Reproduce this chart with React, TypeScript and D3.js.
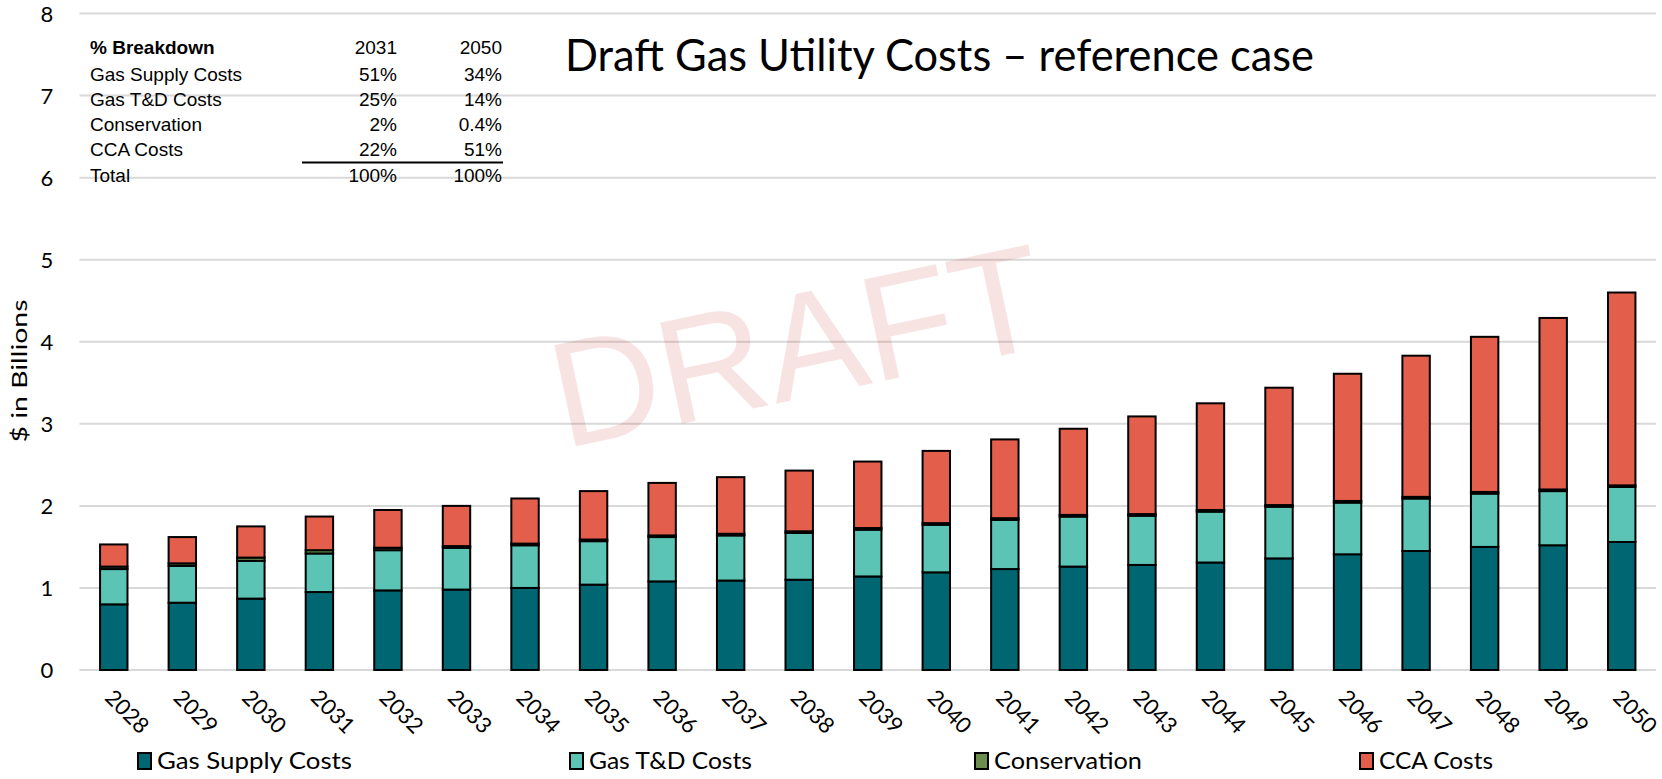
import React from 'react';
import * as d3 from 'd3';

const years = ['2028','2029','2030','2031','2032','2033','2034','2035','2036','2037','2038','2039','2040','2041','2042','2043','2044','2045','2046','2047','2048','2049','2050'];
const gasSupply = [0.80,0.82,0.87,0.95,0.97,0.98,1.00,1.04,1.08,1.09,1.10,1.14,1.19,1.23,1.26,1.28,1.31,1.36,1.41,1.45,1.50,1.52,1.56];
const gasTD = [0.43,0.45,0.46,0.47,0.49,0.51,0.52,0.53,0.54,0.55,0.57,0.57,0.58,0.60,0.61,0.60,0.62,0.63,0.63,0.64,0.65,0.66,0.67];
const conservation = [0.03,0.03,0.04,0.04,0.03,0.02,0.02,0.02,0.02,0.02,0.02,0.02,0.02,0.02,0.02,0.02,0.02,0.02,0.02,0.02,0.02,0.02,0.02];
const ccaCosts = [0.27,0.32,0.38,0.41,0.46,0.49,0.55,0.59,0.64,0.69,0.74,0.81,0.88,0.96,1.05,1.19,1.30,1.43,1.55,1.72,1.89,2.09,2.35];

const seriesNames = ['Gas Supply Costs', 'Gas T&D Costs', 'Conservation', 'CCA Costs'];
const seriesColors = ['#006671', '#5bc4b4', '#6b8e4e', '#e35f4b'];
const yTicks = [0, 1, 2, 3, 4, 5, 6, 7, 8];

// % breakdown table
const tableHeader = ['% Breakdown', '2031', '2050'];
const tableRows = [
  ['Gas Supply Costs', '51%', '34%'],
  ['Gas T&D Costs', '25%', '14%'],
  ['Conservation', '2%', '0.4%'],
  ['CCA Costs', '22%', '51%'],
];
const tableTotal = ['Total', '100%', '100%'];

const W = 1662, H = 779;
const plot = { left: 79.5, right: 1656, top: 13.5, bottom: 670 };
const font = 'Lato, "Open Sans", sans-serif';

export default function App() {
  const x = d3.scaleBand().domain(years).range([plot.left, plot.right]).paddingInner(0.6).paddingOuter(0.3);
  const y = d3.scaleLinear().domain([0, 8]).range([plot.bottom, plot.top]);

  const rows = years.map((yr, i) => ({
    year: yr,
    s0: gasSupply[i], s1: gasTD[i], s2: conservation[i], s3: ccaCosts[i],
  }));
  const stack = d3.stack<any>().keys(['s0', 's1', 's2', 's3'])(rows);

  const legendX = [138, 570, 975, 1360];
  const legendW = [195, 163, 148, 114];

  return (
    <svg width={W} height={H} style={{ position: 'absolute', left: 0, top: 0, background: '#fff' }}>
      {/* gridlines */}
      {yTicks.map(t => (
        <line key={t} x1={plot.left} x2={plot.right} y1={y(t)} y2={y(t)} stroke="#d9d9d9" strokeWidth={2} />
      ))}
      {yTicks.map(t => (
        <text key={'l' + t} x={47} y={y(t) + 8} textAnchor="middle" fontFamily={font} fontSize={22} fill="#000">{t}</text>
      ))}
      <text transform={`translate(27,371) rotate(-90)`} textAnchor="middle"
        fontFamily={font} fontSize={22} fill="#000" textLength={143} lengthAdjust="spacingAndGlyphs">$ in Billions</text>

      {/* watermark */}
      <text transform="translate(800,358) rotate(-12)" textAnchor="middle" dominantBaseline="middle"
        fontFamily='"Liberation Sans", Arial, sans-serif' fontSize={150} fill="#c00000" fillOpacity={0.11}>DRAFT</text>

      {/* bars */}
      {stack.map((layer, si) => (
        <g key={si} fill={seriesColors[si]} stroke="#000" strokeWidth={2}>
          {layer.map((d: any, i: number) => (
            <rect key={i} x={x(years[i])!} width={x.bandwidth()} y={y(d[1])} height={y(d[0]) - y(d[1])} />
          ))}
        </g>
      ))}

      {/* x labels */}
      {years.map(yr => (
        <text key={yr} transform={`translate(${x(yr)! + x.bandwidth() / 2 - 10},${699}) rotate(45)`}
          fontFamily={font} fontSize={22} fill="#000">{yr}</text>
      ))}

      {/* title */}
      <text x={565} y={71} fontFamily={font} fontSize={44} fill="#000" textLength={749} lengthAdjust="spacingAndGlyphs">
        Draft Gas Utility Costs – reference case
      </text>

      {/* table */}
      <g fontFamily='"Liberation Sans", Arial, sans-serif' fontSize={19} fill="#000">
        <text x={90} y={54} fontWeight="bold">{tableHeader[0]}</text>
        <text x={397} y={54} textAnchor="end">{tableHeader[1]}</text>
        <text x={502} y={54} textAnchor="end">{tableHeader[2]}</text>
        {tableRows.map((r, i) => (
          <g key={r[0]}>
            <text x={90} y={80.5 + i * 25}>{r[0]}</text>
            <text x={397} y={80.5 + i * 25} textAnchor="end">{r[1]}</text>
            <text x={502} y={80.5 + i * 25} textAnchor="end">{r[2]}</text>
          </g>
        ))}
        <line x1={302} x2={503} y1={162.5} y2={162.5} stroke="#000" strokeWidth={2} />
        <text x={90} y={182}>{tableTotal[0]}</text>
        <text x={397} y={182} textAnchor="end">{tableTotal[1]}</text>
        <text x={502} y={182} textAnchor="end">{tableTotal[2]}</text>
      </g>

      {/* legend */}
      {seriesNames.map((n, i) => (
        <g key={n}>
          <rect x={legendX[i]} y={753} width={13} height={16} fill={seriesColors[i]} stroke="#000" strokeWidth={2} />
          <text x={legendX[i] + 19} y={769} fontFamily={font} fontSize={24} fill="#000"
            textLength={legendW[i]} lengthAdjust="spacingAndGlyphs">{n}</text>
        </g>
      ))}
    </svg>
  );
}
